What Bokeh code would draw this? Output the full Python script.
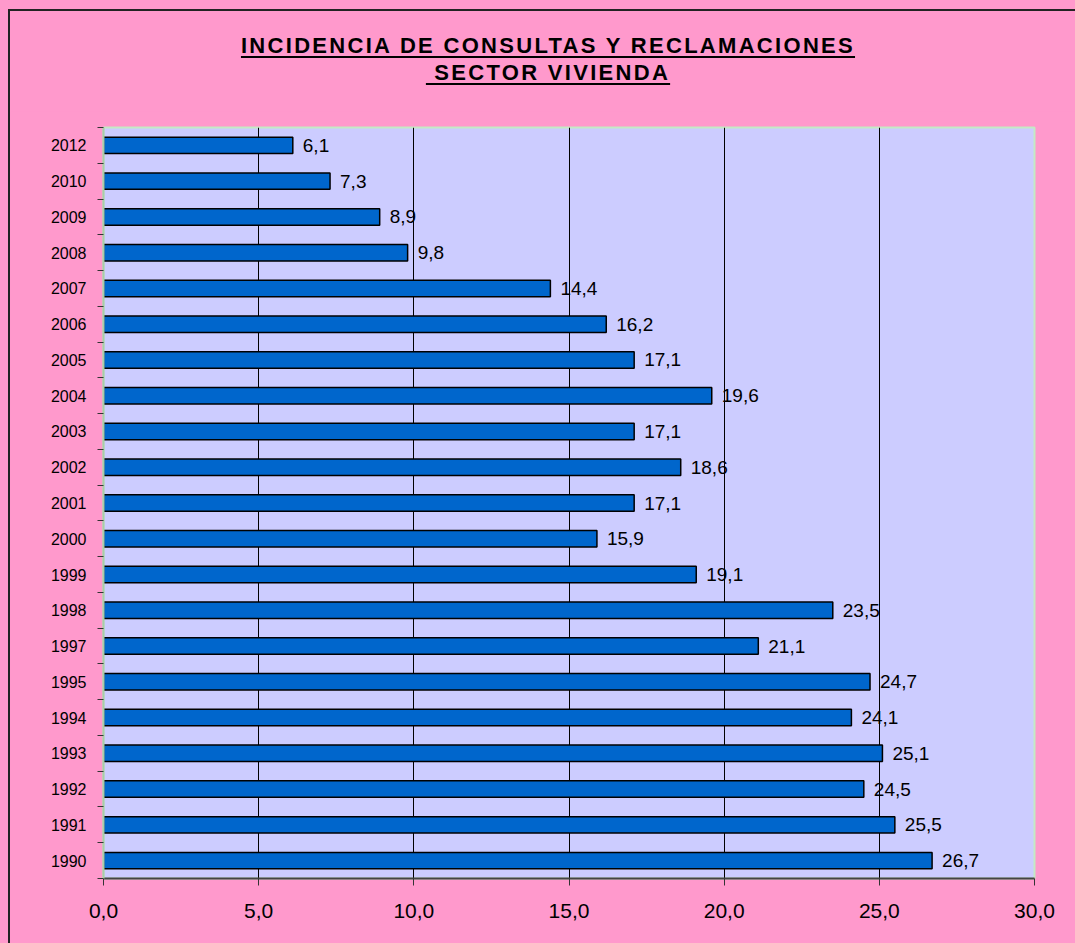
from bokeh.plotting import figure
from bokeh.models import ColumnDataSource, Range1d, FixedTicker, Div
from bokeh.layouts import column
from bokeh.core.properties import value
from bokeh.embed import file_html
from bokeh.resources import INLINE

# ---- data (bottom to top) ----
years = ["1990", "1991", "1992", "1993", "1994", "1995", "1997", "1998", "1999", "2000",
         "2001", "2002", "2003", "2004", "2005", "2006", "2007", "2008", "2009", "2010", "2012"]
values = [26.7, 25.5, 24.5, 25.1, 24.1, 24.7, 21.1, 23.5, 19.1, 15.9,
          17.1, 18.6, 17.1, 19.6, 17.1, 16.2, 14.4, 9.8, 8.9, 7.3, 6.1]
x_ticks = [0, 5, 10, 15, 20, 25, 30]
title_lines = ["INCIDENCIA DE CONSULTAS Y RECLAMACIONES", "SECTOR VIVIENDA"]

FONT = "Liberation Sans"
PINK = "#FF99CC"
LAVENDER = "#CCCCFF"
BAR = "#0066CC"

n = len(years)
pos = [i + 0.5 for i in range(n)]
labels = [f"{v:.1f}".replace(".", ",") for v in values]
src = ColumnDataSource(dict(y=pos, v=values, lab=labels, year=years))

DIV_H = 100
p = figure(frame_width=931, frame_height=751,
           min_border_left=93, min_border_right=41, min_border_top=16, min_border_bottom=65,
           x_range=Range1d(0, 30), y_range=Range1d(0, n),
           output_backend="svg", toolbar_location=None)

p.background_fill_color = LAVENDER
p.border_fill_color = PINK
p.outline_line_color = "#C4EAC4"
p.outline_line_width = 2

p.hbar(y="y", left=0, right="v", height=0.46, source=src,
       fill_color=BAR, line_color="black", line_width=1.5)

p.text(x="v", y="y", text="lab", source=src, x_offset=10,
       text_align="left", text_baseline="middle",
       text_font=value(FONT), text_font_size="19px", text_color="black")

# x axis
xa = p.xaxis[0]
xa.ticker = FixedTicker(ticks=x_ticks, minor_ticks=[])
xa.major_label_overrides = {t: f"{t:.1f}".replace(".", ",") for t in x_ticks}
xa.major_label_text_font = FONT
xa.major_label_text_font_size = "21px"
xa.major_label_text_color = "black"
xa.major_label_standoff = 18
xa.major_tick_out = 7
xa.major_tick_in = 0
xa.major_tick_line_color = "#333333"
xa.axis_line_color = "#444444"
xa.axis_line_width = 2

# y axis: labels at bar centres, tick marks at category boundaries
ya = p.yaxis[0]
ya.ticker = FixedTicker(ticks=pos, minor_ticks=list(range(n + 1)))
ya.major_label_overrides = {pp: yr for pp, yr in zip(pos, years)}
ya.major_label_text_font = FONT
ya.major_label_text_font_size = "16px"
ya.major_label_text_color = "black"
ya.major_tick_line_color = None
ya.major_tick_out = 0
ya.major_tick_in = 0
ya.major_label_standoff = 11
ya.minor_tick_line_color = "#333333"
ya.minor_tick_out = 6
ya.minor_tick_in = 0
ya.axis_line_color = "#A8CCA8"
ya.axis_line_width = 2

p.xgrid.grid_line_color = "black"
p.xgrid.grid_line_width = 1
p.ygrid.grid_line_color = None

title_html = (
    f'<div style="width:1065px; text-align:center; padding-left:11px; box-sizing:border-box; '
    f'padding-top:21px; font-family:\'{FONT}\'; font-weight:bold; font-size:22px; '
    f'line-height:27px; letter-spacing:2.3px; color:black; text-decoration:underline; '
    f'text-decoration-thickness:2px; text-underline-offset:3px;">'
    f'{title_lines[0]}<br>&nbsp;{title_lines[1]}</div>'
)
title_div = Div(text=title_html, width=1065, height=DIV_H,
                styles={"background-color": PINK, "margin": "0", "padding": "0"})

inner = column(title_div, p, spacing=0,
               styles={"border-left": "2px solid #222222", "border-top": "2px solid #222222",
                       "background-color": PINK})
outer = column(inner, spacing=0,
               styles={"padding-left": "8px", "padding-top": "9px", "background-color": PINK})

open("out.html", "w").write(file_html(outer, INLINE))
